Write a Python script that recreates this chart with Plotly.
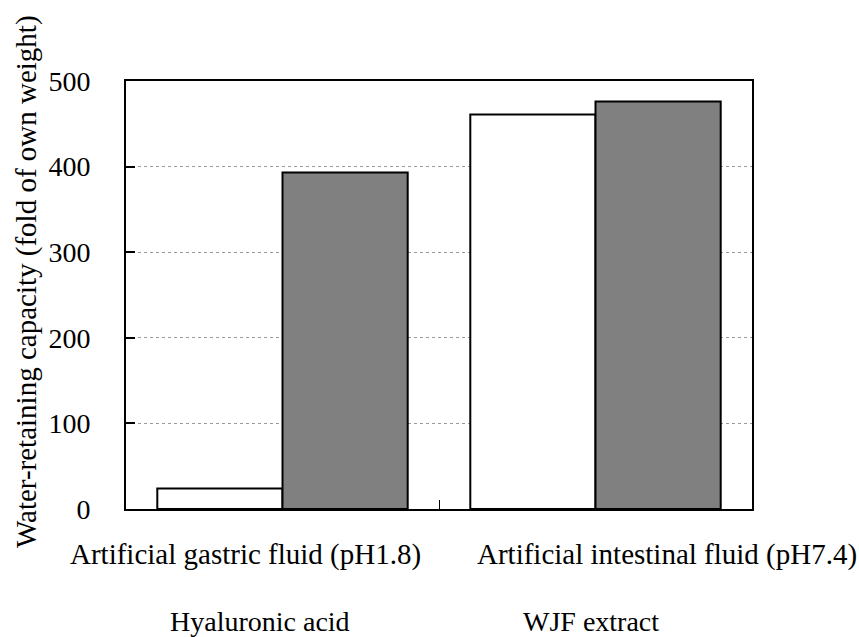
import plotly.graph_objects as go

categories = ["Artificial gastric fluid (pH1.8)", "Artificial intestinal fluid (pH7.4)"]
series_names = ["Hyaluronic acid", "WJF extract"]
hyaluronic = [24, 461]
wjf = [393, 476]
y_ticks = [0, 100, 200, 300, 400, 500]
y_title = "Water-retaining capacity (fold of own weight)"

FONT = "Liberation Serif"
W, H = 859, 637
L, R, T, B = 126, 107, 81, 128

fig = go.Figure()
fig.add_trace(go.Bar(x=categories, y=hyaluronic, name=series_names[0],
                     marker=dict(color="white", line=dict(color="black", width=2))))
fig.add_trace(go.Bar(x=categories, y=wjf, name=series_names[1],
                     marker=dict(color="#808080", line=dict(color="black", width=2))))

def px_x(x):
    return (x - L) / (W - L - R)

def px_y(y):
    return (H - B - y) / (H - T - B)

# category labels (offset as in the reference)
cat_pos = [(245, 554), (667, 554)]
for txt, (x, y) in zip(categories, cat_pos):
    fig.add_annotation(text=txt, x=px_x(x), y=px_y(y), xref="paper", yref="paper",
                       showarrow=False, xanchor="center", yanchor="middle",
                       font=dict(family=FONT, size=29, color="black"))
# series labels
leg_pos = [(260, 621), (591, 621)]
for txt, (x, y) in zip(series_names, leg_pos):
    fig.add_annotation(text=txt, x=px_x(x), y=px_y(y), xref="paper", yref="paper",
                       showarrow=False, xanchor="center", yanchor="middle",
                       font=dict(family=FONT, size=28, color="black"))
# y title
fig.add_annotation(text=y_title, x=px_x(26), y=px_y(282), xref="paper", yref="paper",
                   showarrow=False, xanchor="center", yanchor="middle", textangle=-90,
                   font=dict(family=FONT, size=29, color="black"))

fig.update_layout(
    width=W, height=H,
    margin=dict(l=L, r=R, t=T, b=B, pad=0),
    paper_bgcolor="white", plot_bgcolor="white",
    barmode="group", bargap=0.2, bargroupgap=0,
    showlegend=False,
    font=dict(family=FONT, size=28, color="black"),
)
fig.update_xaxes(showline=True, linecolor="black", linewidth=2, mirror=True,
                 ticks="inside", tickson="boundaries", ticklen=9, tickcolor="black",
                 tickwidth=1, showticklabels=False, showgrid=False)
fig.update_yaxes(range=[0, 500], tickvals=y_ticks, showline=True, linecolor="black",
                 linewidth=2, mirror=True, ticks="inside", ticklen=9, tickcolor="black",
                 tickwidth=2, showgrid=True, gridcolor="#9a9a9a", griddash="dot",
                 gridwidth=1, zeroline=False, ticklabelstandoff=28,
                 tickfont=dict(family=FONT, size=28, color="black"))

fig.write_html("out.html", config={"displayModeBar": False},
               post_script="document.body.style.margin='0';document.body.style.overflow='hidden';")
